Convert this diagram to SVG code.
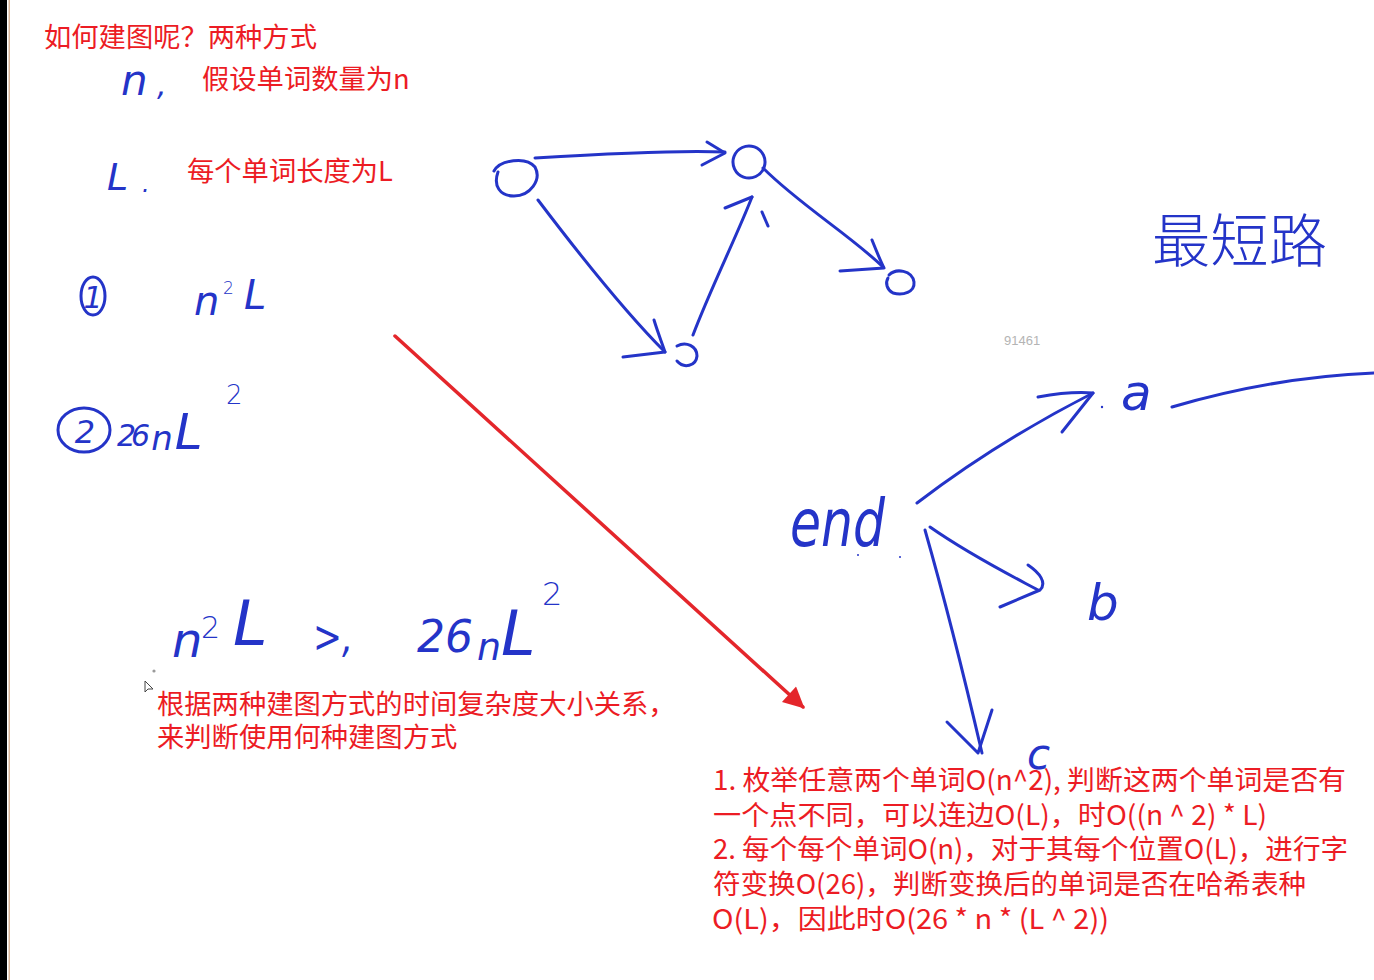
<svg xmlns="http://www.w3.org/2000/svg" width="1374" height="980" viewBox="0 0 1374 980">
<defs>
<style>
.red{fill:#ec1c24;font-family:"Noto Sans CJK SC","Noto Sans",sans-serif;font-size:27.3px}
.hw{fill:#2434c8;font-family:"DejaVu Sans",sans-serif;font-style:italic;font-weight:300}
.hwc{fill:#2434c8;font-family:"Noto Sans CJK SC",sans-serif;font-weight:300}
.ink{fill:none;stroke:#2434c8;stroke-width:3;stroke-linecap:round;stroke-linejoin:round}
.redline{fill:none;stroke:#e4262b;stroke-width:3.5;stroke-linecap:round}
</style>
<marker id="redhead" viewBox="0 0 10 10" refX="9" refY="5" markerWidth="7" markerHeight="6" orient="auto" markerUnits="strokeWidth">
<path d="M0 0 L10 5 L0 10 Z" fill="#e4262b"/>
</marker>
</defs>
<rect x="0" y="0" width="1374" height="980" fill="#ffffff"/>
<rect x="0" y="0" width="7" height="980" fill="#000000"/>
<rect x="8.5" y="0" width="1.5" height="980" fill="#dcb89c"/>

<g id="notes-top">
<text class="red" x="44" y="47">如何建图呢？两种方式</text>
<text class="hw" x="121" y="95" font-size="42">n<tspan x="157" font-size="30">,</tspan></text>
<text class="red" x="202" y="89">假设单词数量为n</text>
<text class="hw" x="107" y="190" font-size="38">L<tspan x="142" y="192" font-size="24">.</tspan></text>
<text class="red" x="187" y="181">每个单词长度为L</text>
</g>

<g id="option-1">
<ellipse class="ink" cx="93" cy="296" rx="12" ry="19"/>
<text class="hw" x="93" y="308" font-size="30" text-anchor="middle">1</text>
<text class="hw" font-size="40"><tspan x="194" y="315">n</tspan><tspan x="223" y="294" font-size="17" font-style="normal">2</tspan><tspan x="244" y="309">L</tspan></text>
</g>

<g id="option-2">
<ellipse class="ink" cx="84" cy="430" rx="26" ry="22"/>
<text class="hw" x="85" y="443" font-size="32" text-anchor="middle" font-style="normal">2</text>
<text class="hw" x="117" y="446" font-size="34"><tspan font-size="30" letter-spacing="-5">26</tspan><tspan dx="6" y="450">n</tspan><tspan dx="2" y="449" font-size="50">L</tspan><tspan x="226" y="404" font-size="26" font-style="normal">2</tspan></text>
</g>

<g id="compare">
<text class="hw" font-size="48"><tspan x="172" y="657">n</tspan><tspan x="201" y="638" font-size="30" font-style="normal">2</tspan><tspan x="233" y="645" font-size="62">L</tspan></text>
<text class="hw" x="313" y="652" font-size="44" textLength="40" lengthAdjust="spacingAndGlyphs">&gt;,</text>
<text class="hw" font-size="44"><tspan x="417" y="652">26</tspan><tspan x="477" y="660" font-size="38">n</tspan><tspan x="501" y="655" font-size="62">L</tspan><tspan x="542" y="605" font-size="32" font-style="normal">2</tspan></text>
<circle cx="154" cy="671" r="1.6" fill="#9a9a9a"/>
<path d="M145 681 L145 692 L148 689 L153 689 Z" fill="#ffffff" stroke="#444444" stroke-width="1"/>
<text class="red"><tspan x="157" y="714">根据两种建图方式的时间复杂度大小关系，</tspan><tspan x="157" y="747">来判断使用何种建图方式</tspan></text>
</g>

<g id="graph-nodes">
<path class="ink" d="M494 171 C500 160 526 156 535 167 C542 180 530 196 514 196 C500 196 493 186 498 172"/>
<ellipse class="ink" cx="749" cy="162" rx="16" ry="16" transform="rotate(-25 749 162)"/>
<path class="ink" d="M677 346 C686 341 697 346 697 356 C696 366 684 369 677 361"/>
<path class="ink" d="M889 275 C896 268 912 270 914 282 C915 292 903 296 893 293 C887 290 885 283 888 278"/>
</g>

<g id="graph-edges">
<path class="ink" d="M535 158 C600 154 680 150 725 152"/>
<path class="ink" d="M707 142 L725 153 L702 165"/>
<path class="ink" d="M538 200 C585 262 625 312 665 352"/>
<path class="ink" d="M654 320 C658 333 662 343 665 352 L623 357"/>
<path class="ink" d="M693 335 C710 290 735 240 752 197"/>
<path class="ink" d="M725 208 L752 197"/>
<path class="ink" d="M762 212 L768 226"/>
<path class="ink" d="M763 168 C800 205 850 235 883 267"/>
<path class="ink" d="M872 240 C876 250 880 260 884 268 L840 271"/>
</g>

<g id="shortest-path-label">
<text class="hwc" x="1152" y="262" font-size="58" textLength="175" lengthAdjust="spacingAndGlyphs">最短路</text>
</g>

<g id="end-node">
<text class="hw" x="790" y="546" font-size="66" textLength="95" lengthAdjust="spacingAndGlyphs">end</text>
<circle cx="858" cy="555" r="1" fill="#2434c8"/>
<circle cx="900" cy="557" r="1" fill="#2434c8"/>
</g>
<g id="node-a">
<circle cx="1102" cy="407" r="1.2" fill="#2434c8"/>
<text class="hw" x="1121" y="410" font-size="50">a</text>
</g>
<g id="node-b">
<text class="hw" x="1087" y="620" font-size="50">b</text>
</g>
<g id="node-c">
<text class="hw" x="1027" y="769" font-size="42">c</text>
</g>

<g id="connectors">
<path class="ink" d="M917 503 C980 455 1040 420 1093 393"/>
<path class="ink" d="M1038 397 C1060 393 1080 392 1093 393 L1062 432"/>
<path class="ink" d="M1172 407 C1230 390 1300 376 1374 373"/>
<path class="ink" d="M930 527 C970 555 1010 575 1038 590"/>
<path class="ink" d="M1028 565 C1040 573 1047 583 1040 590 L1000 607"/>
<path class="ink" d="M925 530 C945 600 965 680 982 753"/>
<path class="ink" d="M947 722 L978 753 L992 710"/>
<path class="redline" d="M395 336 L803 707" marker-end="url(#redhead)"/>
</g>

<g id="watermark">
<text x="1004" y="345" font-family="Liberation Sans, sans-serif" font-size="13" fill="#b4b4b4">91461</text>
</g>

<g id="notes-bottom">
<text class="red"><tspan x="713" y="790" textLength="633" lengthAdjust="spacingAndGlyphs">1. 枚举任意两个单词O(n^2), 判断这两个单词是否有</tspan><tspan x="713" y="825" textLength="554" lengthAdjust="spacingAndGlyphs">一个点不同，可以连边O(L)，时O((n ^ 2) * L)</tspan><tspan x="713" y="859" textLength="635" lengthAdjust="spacingAndGlyphs">2. 每个每个单词O(n)，对于其每个位置O(L)，进行字</tspan><tspan x="713" y="894" textLength="593" lengthAdjust="spacingAndGlyphs">符变换O(26)，判断变换后的单词是否在哈希表种</tspan><tspan x="712" y="929" textLength="397" lengthAdjust="spacingAndGlyphs">O(L)，因此时O(26 * n * (L ^ 2))</tspan></text>
</g>
</svg>
